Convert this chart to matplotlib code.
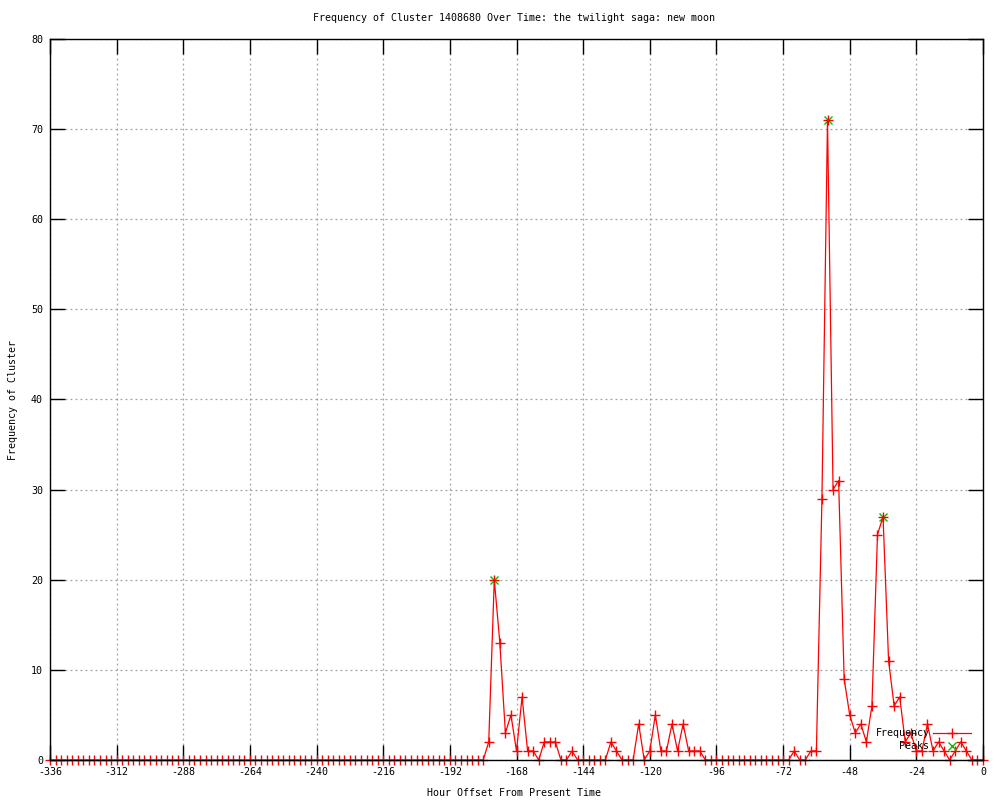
import matplotlib
matplotlib.use("Agg")
import matplotlib.pyplot as plt
import numpy as np

# ---- data ----
hours = list(range(-336, 1, 2))
frequency = [
    0, 0, 0, 0, 0, 0, 0, 0, 0, 0,
    0, 0, 0, 0, 0, 0, 0, 0, 0, 0,
    0, 0, 0, 0, 0, 0, 0, 0, 0, 0,
    0, 0, 0, 0, 0, 0, 0, 0, 0, 0,
    0, 0, 0, 0, 0, 0, 0, 0, 0, 0,
    0, 0, 0, 0, 0, 0, 0, 0, 0, 0,
    0, 0, 0, 0, 0, 0, 0, 0, 0, 0,
    0, 0, 0, 0, 0, 0, 0, 0, 0, 2,
    20, 13, 3, 5, 1, 7, 1, 1, 0, 2,
    2, 2, 0, 0, 1, 0, 0, 0, 0, 0,
    0, 2, 1, 0, 0, 0, 4, 0, 1, 5,
    1, 1, 4, 1, 4, 1, 1, 1, 0, 0,
    0, 0, 0, 0, 0, 0, 0, 0, 0, 0,
    0, 0, 0, 0, 1, 0, 0, 1, 1, 29,
    71, 30, 31, 9, 5, 3, 4, 2, 6, 25,
    27, 11, 6, 7, 2, 3, 1, 1, 4, 1,
    2, 1, 0, 1, 2, 1, 0, 0, 0,
]
peak_hours = [-176, -56, -36]
peak_values = [20, 71, 27]
x_ticks = list(range(-336, 1, 24))
y_ticks = list(range(0, 81, 10))

title = "Frequency of Cluster 1408680 Over Time: the twilight saga: new moon"
xlabel = "Hour Offset From Present Time"
ylabel = "Frequency of Cluster"

# ---- style ----
plt.rcParams['font.family'] = ['DejaVu Sans Mono']
plt.rcParams['axes.unicode_minus'] = False
FS = 7.2

fig = plt.figure(figsize=(10, 8), dpi=100)
ax = fig.add_axes([0.05, 0.05, 0.933, 0.90125])

ax.plot(peak_hours, peak_values, linestyle='none', marker='x', color='#00c000',
        markersize=6, markeredgewidth=1.0, label='Peaks', zorder=3, clip_on=False)
ax.plot(hours, frequency, color='#ff0000', linewidth=0.9, marker='+',
        markersize=6.5, markeredgewidth=1.0, label='Frequency', zorder=4, clip_on=False)

ax.set_xlim(-336, 0)
ax.set_ylim(0, 80)
ax.set_xticks(x_ticks)
ax.set_yticks(y_ticks)
ax.tick_params(direction='in', length=11, width=1, top=True, right=True,
               labelsize=FS, pad=5, colors='black')
ax.grid(True, color='#a0a0a0', linestyle=(0, (1.5, 2.5)), linewidth=0.9)
for s in ax.spines.values():
    s.set_linewidth(1.0)
    s.set_color('black')
    s.set_zorder(5)

fig.text(0.514, 1 - 18 / 800, title, ha='center', va='center', fontsize=FS)
fig.text(0.514, 1 - 793 / 800, xlabel, ha='center', va='center', fontsize=FS)
fig.text(0.013, 0.5, ylabel, ha='center', va='center', rotation=90, fontsize=FS)

h, l = ax.get_legend_handles_labels()
order = [1, 0]
leg = ax.legend([h[i] for i in order], [l[i] for i in order], loc='lower right',
                bbox_to_anchor=(0.994, 0.004), frameon=False, markerfirst=False,
                fontsize=FS, handlelength=3.8, handletextpad=0.4, labelspacing=0.3,
                numpoints=1, borderaxespad=0.2)

fig.savefig('out.png', dpi=100)
